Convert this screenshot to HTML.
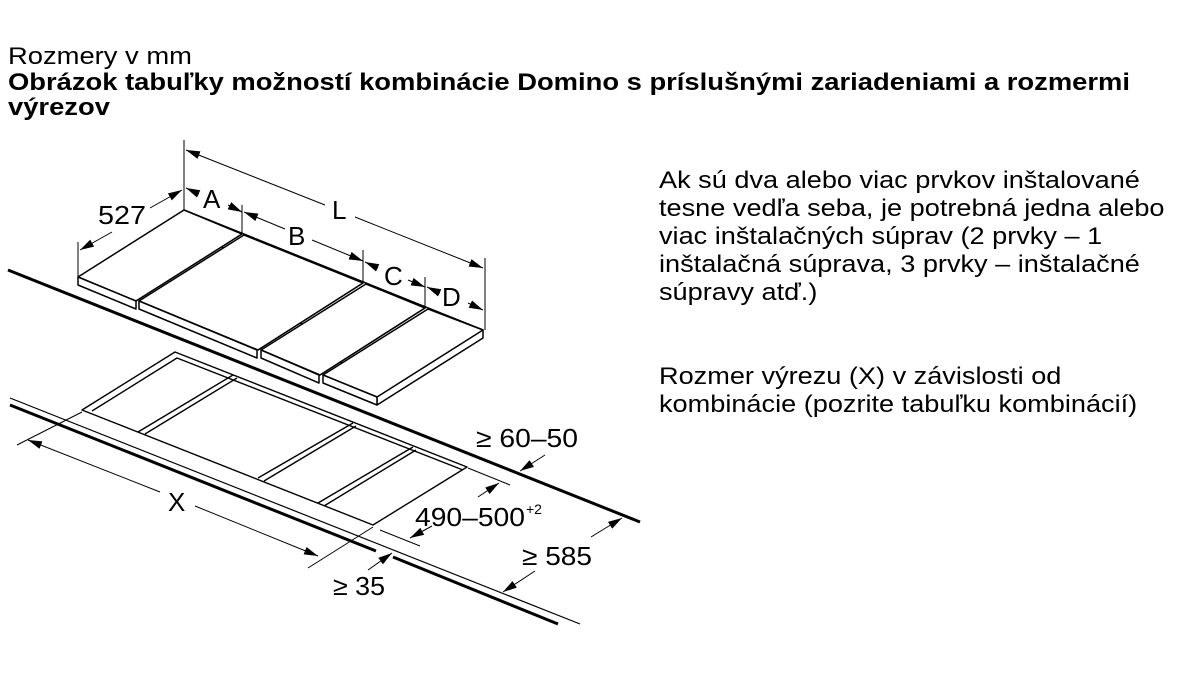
<!DOCTYPE html>
<html><head><meta charset="utf-8"><style>
html,body{margin:0;padding:0;background:#fff;}
body{width:1200px;height:674px;position:relative;overflow:hidden;font-family:"Liberation Sans",sans-serif;color:#000;}
.t{position:absolute;left:8px;font-size:24px;line-height:25px;white-space:nowrap;transform-origin:0 0;transform:scaleX(1.14);}
.p{position:absolute;left:659px;font-size:24px;line-height:28px;white-space:nowrap;transform-origin:0 0;transform:scaleX(1.13);}
svg{position:absolute;left:0;top:0;}
</style></head><body>
<div class="t" style="top:44px">Rozmery v mm</div>
<div class="t" style="top:70px;font-weight:bold">Obrázok tabuľky možností kombinácie Domino s príslušnými zariadeniami a rozmermi</div>
<div class="t" style="top:95px;font-weight:bold">výrezov</div>
<div class="p" style="top:167px">Ak sú dva alebo viac prvkov inštalované<br>tesne vedľa seba, je potrebná jedna alebo<br>viac inštalačných súprav (2 prvky – 1<br>inštalačná súprava, 3 prvky – inštalačné<br>súpravy atď.)</div>
<div class="p" style="top:363px">Rozmer výrezu (X) v závislosti od<br>kombinácie (pozrite tabuľku kombinácií)</div>
<svg width="1200" height="674" viewBox="0 0 1200 674">
<defs>
<marker id="a" viewBox="0 0 14 8" refX="14" refY="4" markerWidth="14" markerHeight="8" markerUnits="userSpaceOnUse" orient="auto-start-reverse"><path d="M0,0 L14,4 L0,8 z" fill="#000"/></marker>
</defs>
<g stroke="#000" fill="none" stroke-linejoin="round">
<line x1="8" y1="270" x2="640" y2="522" stroke-width="3"/>
<line x1="10" y1="398" x2="580" y2="624" stroke-width="1.2"/>
<line x1="10" y1="405" x2="376" y2="551" stroke-width="3"/>
<line x1="393" y1="557" x2="558" y2="624" stroke-width="3"/>
<g stroke-width="1.5" fill="#fff">
<path d="M184,210 L483,330 L483,338 L377,405 L377,397 Z"/>
<path d="M78,277 L184,210 L242,234 L136,301 Z"/>
<path d="M139,301 L244,235 L363,283 L258,350 Z"/>
<path d="M261,350 L366,284 L425,308 L320,375 Z"/>
<path d="M323,375 L428,309 L483,330 L377,397 Z"/>
<path d="M78,277 L136,301 L136,309 L78,285 Z"/>
<path d="M139,301 L257,350 L257,358 L139,309 Z"/>
<path d="M261,350 L319,375 L319,383 L261,358 Z"/>
<path d="M323,375 L377,397 L377,405 L323,383 Z"/>
</g>
<g stroke-width="1.2">
<line x1="136" y1="301" x2="242" y2="234"/>
<line x1="258" y1="350" x2="363" y2="283"/>
<line x1="320" y1="375" x2="425" y2="308"/>
</g>
<g stroke-width="1.4">
<path d="M82,410 L175,352 L467,467 L373,525 Z"/>
<path d="M92,411 L177,358 L463,470"/>
<path d="M233,375 L138,432 M237,378 L145,434"/>
<path d="M353,423 L258,478 M356,426 L264,481"/>
<path d="M413,447 L318,503 M416,450 L324,506"/>
</g>
<g stroke-width="1">
<line x1="184" y1="140" x2="184" y2="210"/>
<line x1="485" y1="258" x2="485" y2="330"/>
<line x1="242" y1="205" x2="242" y2="234"/>
<line x1="363" y1="250" x2="363" y2="283"/>
<line x1="425" y1="277" x2="425" y2="308"/>
<line x1="78" y1="242" x2="78" y2="277"/>
<line x1="186" y1="150" x2="325" y2="205" marker-start="url(#a)"/>
<line x1="355" y1="217" x2="483" y2="268" marker-end="url(#a)"/>
<line x1="186" y1="188" x2="199" y2="194" marker-start="url(#a)"/>
<line x1="228" y1="205" x2="242" y2="212" marker-end="url(#a)"/>
<line x1="244" y1="212" x2="285" y2="229" marker-start="url(#a)"/>
<line x1="312" y1="240" x2="363" y2="261" marker-end="url(#a)"/>
<line x1="365" y1="262" x2="378" y2="268" marker-start="url(#a)"/>
<line x1="408" y1="280" x2="425" y2="287" marker-end="url(#a)"/>
<line x1="427" y1="287" x2="440" y2="293" marker-start="url(#a)"/>
<line x1="468" y1="303" x2="483" y2="310" marker-end="url(#a)"/>
<line x1="80" y1="250" x2="112" y2="232" marker-start="url(#a)"/>
<line x1="150" y1="208" x2="182" y2="190" marker-end="url(#a)"/>
<line x1="82" y1="412" x2="17" y2="445"/>
<line x1="373" y1="527" x2="308" y2="568"/>
<line x1="28" y1="440" x2="160" y2="492" marker-start="url(#a)"/>
<line x1="195" y1="506" x2="318" y2="556" marker-end="url(#a)"/>
<line x1="468" y1="468" x2="510" y2="485"/>
<line x1="380" y1="530" x2="420" y2="546"/>
<line x1="478" y1="497" x2="499" y2="483" marker-end="url(#a)"/>
<line x1="432" y1="526" x2="410" y2="538" marker-end="url(#a)"/>
<line x1="545" y1="455" x2="520" y2="471" marker-end="url(#a)"/>
<line x1="591" y1="537" x2="622" y2="518" marker-end="url(#a)"/>
<line x1="535" y1="571" x2="503" y2="592" marker-end="url(#a)"/>
<line x1="368" y1="570" x2="392" y2="553" marker-end="url(#a)"/>
</g>
</g>
<g font-family="'Liberation Sans',sans-serif" font-size="26" fill="#000">
<text x="98" y="224" textLength="48" lengthAdjust="spacingAndGlyphs">527</text>
<text x="203" y="208">A</text>
<text x="332" y="219">L</text>
<text x="288" y="245">B</text>
<text x="384" y="285">C</text>
<text x="442" y="306">D</text>
<text x="168" y="511">X</text>
<text x="476" y="447" textLength="102" lengthAdjust="spacingAndGlyphs">≥ 60–50</text>
<text x="415" y="526" textLength="110" lengthAdjust="spacingAndGlyphs">490–500</text>
<text x="526" y="514" font-size="14">+2</text>
<text x="522" y="565" textLength="70" lengthAdjust="spacingAndGlyphs">≥ 585</text>
<text x="333" y="595" textLength="52" lengthAdjust="spacingAndGlyphs">≥ 35</text>
</g>
</svg>
</body></html>
